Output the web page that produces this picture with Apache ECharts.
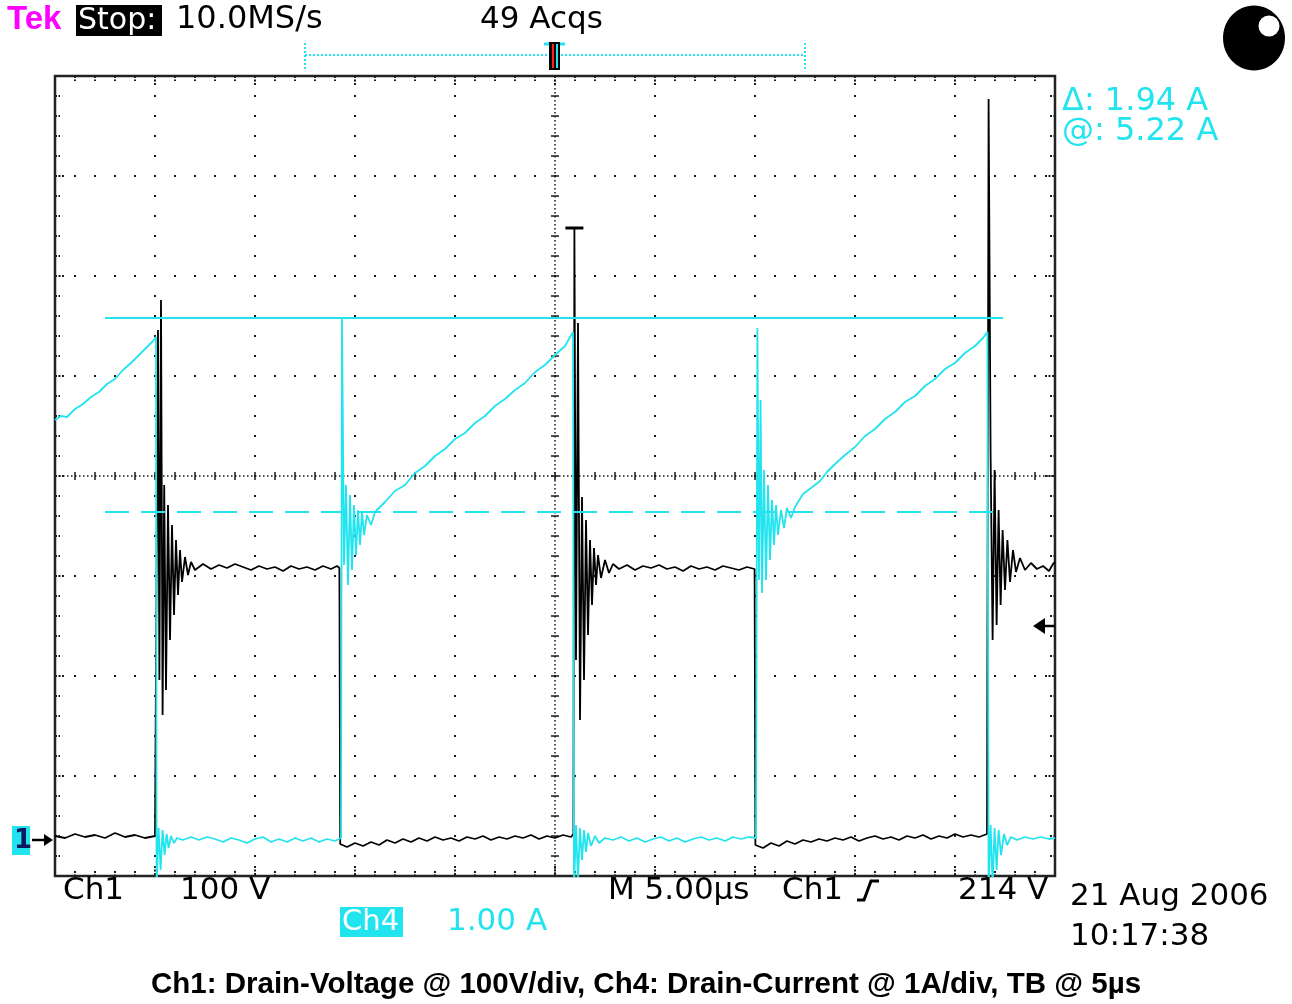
<!DOCTYPE html>
<html><head><meta charset="utf-8">
<script src="https://cdn.jsdelivr.net/npm/echarts@6/dist/echarts.min.js"></script>
<style>html,body{margin:0;padding:0;background:#fff}#c{width:1292px;height:1004px}</style>
</head><body><div id="c"></div>
<script>
// ---- Ch1: drain voltage (time in µs, volts) ----
const ch1T = [0,0.5,1.0,1.5,2.0,2.5,3.0,3.5,4.0,4.5,5.0,5.1,
5.15,5.22,5.30,5.38,5.46,5.55,5.65,5.75,5.85,5.95,6.05,6.15,6.25,6.35,6.5,6.65,6.8,
7.0,7.4,7.8,8.2,8.6,9.0,9.4,9.8,10.2,10.6,11.0,11.4,11.8,12.2,12.6,13.0,13.4,13.8,14.1,14.22,
14.26,14.6,15.0,15.4,15.8,16.2,16.6,17.0,17.4,17.8,18.2,18.6,19.0,19.4,19.8,20.2,20.6,21.0,21.4,21.8,22.2,22.6,23.0,23.4,23.8,24.2,24.6,25.0,25.4,25.8,25.92,
25.97,26.05,26.15,26.25,26.35,26.45,26.55,26.65,26.75,26.85,26.95,27.05,27.15,27.3,27.5,27.7,27.9,
28.2,28.6,29.0,29.4,29.8,30.2,30.6,31.0,31.4,31.8,32.2,32.6,33.0,33.4,33.8,34.2,34.6,34.98,
35.02,35.4,35.8,36.2,36.6,37.0,37.4,37.8,38.2,38.6,39.0,39.4,39.8,40.2,40.6,41.0,41.4,41.8,42.2,42.6,43.0,43.4,43.8,44.2,44.6,45.0,45.4,45.8,46.2,46.6,
46.68,46.78,46.88,46.98,47.08,47.18,47.28,47.38,47.5,47.62,47.75,47.9,48.05,48.25,48.5,48.8,49.1,49.4,49.7,49.9,50.0];
const ch1V = [4,2,6,3,5,2,7,3,5,2,4,6,
510,160,540,125,355,150,335,200,315,225,300,245,290,258,283,265,278,
270,276,271,275,272,276,273,270,274,271,273,269,274,271,273,270,274,271,274,272,
-4,-7,-3,-6,-2,-5,0,-3,1,-2,2,-1,3,0,2,-1,3,1,4,0,3,1,4,2,5,1,4,2,5,3,6,
612,180,517,120,343,160,320,205,300,235,292,255,285,262,280,267,276,
271,275,270,274,272,275,271,273,269,274,271,273,270,274,272,270,273,271,
-5,-8,-3,-6,-1,-4,0,-2,1,-1,2,0,3,-1,2,4,1,3,0,4,2,5,1,4,2,6,3,5,3,6,
741,385,200,370,215,330,235,310,250,300,258,290,268,282,270,277,271,274,269,276,278];

// ---- Ch4: drain current (time in µs, amperes) ----
const ch4T = [0,0.3,0.6,1.0,1.4,1.8,2.2,2.6,3.0,3.4,3.8,4.2,4.6,4.9,5.05,
5.08,5.18,5.28,5.38,5.48,5.58,5.68,5.8,5.95,6.1,
6.4,6.8,7.2,7.6,8.0,8.4,8.8,9.2,9.6,10.0,10.4,10.8,11.2,11.6,12.0,12.4,12.8,13.2,13.6,14.0,14.3,
14.35,14.45,14.55,14.65,14.75,14.85,14.95,15.05,15.15,15.25,15.35,15.45,15.6,15.8,16.0,
16.5,17.0,17.5,18.0,18.5,19.0,19.5,20.0,20.5,21.0,21.5,22.0,22.5,23.0,23.5,24.0,24.5,25.0,25.5,25.9,
25.95,26.05,26.15,26.25,26.35,26.45,26.55,26.65,26.8,27.0,27.2,27.5,
27.9,28.3,28.7,29.1,29.5,29.9,30.3,30.7,31.1,31.5,31.9,32.3,32.7,33.1,33.5,33.9,34.3,34.7,35.05,
35.12,35.2,35.28,35.35,35.45,35.55,35.65,35.75,35.85,35.95,36.05,36.15,36.3,36.45,36.6,36.8,37.0,
37.4,37.8,38.25,38.6,39.0,39.5,40.0,40.5,41.0,41.5,42.0,42.5,43.0,43.5,44.0,44.5,45.0,45.5,46.0,46.4,46.62,
46.68,46.78,46.88,46.98,47.08,47.18,47.3,47.45,47.6,47.8,48.1,48.5,48.9,49.3,49.7,50.0];
const ch4A = [4.20,4.24,4.23,4.31,4.36,4.43,4.48,4.56,4.61,4.70,4.77,4.85,4.93,4.99,5.03,
-0.5,0.12,-0.30,0.10,-0.15,0.06,-0.08,0.04,-0.03,0.02,
0.00,0.03,0.00,0.03,0.01,-0.02,0.02,0.00,-0.03,0.01,0.03,-0.02,0.01,-0.02,0.02,-0.01,0.02,-0.02,0.01,-0.01,0.02,
5.22,2.75,3.55,2.55,3.45,2.70,3.35,2.85,3.30,2.95,3.28,3.05,3.25,3.15,3.28,
3.38,3.49,3.55,3.67,3.74,3.84,3.91,4.01,4.07,4.17,4.24,4.34,4.41,4.50,4.57,4.68,4.75,4.85,4.94,5.08,
-0.5,0.15,-0.40,0.12,-0.20,0.10,-0.12,0.07,-0.06,0.04,-0.03,0.02,
0.00,0.03,-0.01,0.02,-0.02,0.01,0.03,-0.01,0.02,-0.02,0.01,0.03,0.00,0.02,-0.01,0.03,0.01,0.03,0.02,
5.12,2.60,4.40,2.47,3.70,2.60,3.55,2.80,3.40,2.95,3.35,3.05,3.30,3.12,3.32,3.22,3.33,
3.46,3.52,3.59,3.68,3.76,3.85,3.93,4.04,4.11,4.21,4.28,4.38,4.44,4.54,4.61,4.71,4.77,4.87,4.94,5.02,5.08,
-0.5,0.15,-0.45,0.12,-0.30,0.10,-0.15,0.06,-0.05,0.03,0.00,0.03,0.01,0.03,0.01,0.02];

// ---- cursors / settings ----
const cursorT = [2.5, 47.4];
const cursorLevels = [5.22, 3.28];   // Δ = 1.94 A, @ = 5.22 A
const triggerLevel = 214;            // V
const peakClipT = 25.97, peakClipV = 612;
const timeAxis = [0, 50];            // 5 µs/div × 10
const voltAxis = [-36, 764];         // 100 V/div × 8
const ampAxis = [-0.36, 7.64];       // 1 A/div × 8

const CYAN = '#22e4ee';
const FONT = '"DejaVu Sans", "Liberation Sans", sans-serif';
const zip = (a, b) => a.map((v, i) => [v, b[i]]);

const chart = echarts.init(document.getElementById('c'), null, {renderer: 'canvas'});

function renderGraticule(params, api) {
  const p0 = api.coord([0, 8]), p1 = api.coord([10, 0]);
  const L = p0[0], T = p0[1], R = p1[0], B = p1[1];
  const dx = (R - L) / 10, dy = (B - T) / 8, sub = 5;
  const C = '#1a1a1a';
  const kids = [];
  const ln = (x1, y1, x2, y2, st) => kids.push({type: 'line', shape: {x1, y1, x2, y2}, style: Object.assign({stroke: C, lineWidth: 2}, st || {})});
  for (let i = 1; i < 10; i++) { if (i === 5) continue; const x = L + i * dx; ln(x, T - 1, x, B + 1, {lineDash: [2, dy / sub - 2]}); }
  for (let j = 1; j < 8; j++) { if (j === 4) continue; const y = T + j * dy; ln(L - 1, y, R + 1, y, {lineDash: [2, dx / sub - 2]}); }
  const cx = L + 5 * dx, cy = T + 4 * dy;
  ln(cx, T, cx, B, {lineWidth: 1.5, lineDash: [1.5, 2.5]});
  ln(L, cy, R, cy, {lineWidth: 1.5, lineDash: [1.5, 2.5]});
  for (let k = 1; k < 10 * sub; k++) {
    const x = L + k * dx / sub, major = k % sub === 0, len = major ? 10 : 5;
    ln(x, cy - 4, x, cy + 4, {lineWidth: 1.5});
    ln(x, T, x, T + len, {lineDash: [2, 1.5]});
    ln(x, B - len, x, B, {lineDash: [2, 1.5]});
  }
  for (let k = 1; k < 8 * sub; k++) {
    const y = T + k * dy / sub, major = k % sub === 0, len = major ? 10 : 5;
    ln(cx - 4, y, cx + 4, y, {lineWidth: 1.5});
    ln(L, y, L + len, y, {lineDash: [2, 1.5]});
    ln(R - len, y, R, y, {lineDash: [2, 1.5]});
  }
  kids.push({type: 'rect', shape: {x: L, y: T, width: R - L, height: B - T}, style: {fill: null, stroke: '#222', lineWidth: 2.5}});
  return {type: 'group', children: kids};
}

const hiddenAxis = {show: false};
chart.setOption({
  animation: false,
  backgroundColor: '#ffffff',
  grid: {left: 55, top: 76, width: 1000, height: 800, show: false},
  xAxis: [
    Object.assign({type: 'value', min: timeAxis[0], max: timeAxis[1]}, hiddenAxis),
    Object.assign({type: 'value', min: 0, max: 10}, hiddenAxis)
  ],
  yAxis: [
    Object.assign({type: 'value', min: voltAxis[0], max: voltAxis[1]}, hiddenAxis),
    Object.assign({type: 'value', min: ampAxis[0], max: ampAxis[1]}, hiddenAxis),
    Object.assign({type: 'value', min: 0, max: 8}, hiddenAxis)
  ],
  series: [
    {type: 'custom', name: 'graticule', xAxisIndex: 1, yAxisIndex: 2, data: [[0, 0]], renderItem: renderGraticule, z: 1, clip: false, silent: true},
    {type: 'line', name: 'Ch1', xAxisIndex: 0, yAxisIndex: 0, data: zip(ch1T, ch1V), showSymbol: false, z: 3,
      lineStyle: {color: '#000', width: 1.8}, itemStyle: {color: '#000'}},
    {type: 'line', name: 'Ch4', xAxisIndex: 0, yAxisIndex: 1, data: zip(ch4T, ch4A), showSymbol: false, z: 4,
      lineStyle: {color: CYAN, width: 1.8}, itemStyle: {color: CYAN}},
    {type: 'line', name: 'cursor1', xAxisIndex: 0, yAxisIndex: 1, data: cursorT.map(t => [t, cursorLevels[0]]), showSymbol: false, z: 5,
      lineStyle: {color: CYAN, width: 1.8}},
    {type: 'line', name: 'cursor2', xAxisIndex: 0, yAxisIndex: 1, data: cursorT.map(t => [t, cursorLevels[1]]), showSymbol: false, z: 5,
      lineStyle: {color: CYAN, width: 1.8, type: [24, 12]}}
  ]
});

const gnd = chart.convertToPixel({xAxisIndex: 0, yAxisIndex: 0}, [0, 0]);
const trig = chart.convertToPixel({xAxisIndex: 0, yAxisIndex: 0}, [timeAxis[1], triggerLevel]);
const pk = chart.convertToPixel({xAxisIndex: 0, yAxisIndex: 0}, [peakClipT, peakClipV]);
const tl = chart.convertToPixel({xAxisIndex: 1, yAxisIndex: 2}, [0, 8]);
const br = chart.convertToPixel({xAxisIndex: 1, yAxisIndex: 2}, [10, 0]);
const midX = (tl[0] + br[0]) / 2;

const txt = (text, x, y, fill, size, extra) => ({type: 'text', z: 10, style: Object.assign({text, x, y, fill, font: size + 'px ' + FONT, textVerticalAlign: 'middle'}, extra || {})});

chart.setOption({
  graphic: [
    // header
    txt('Tek', 7, 20, '#ff00ff', 32, {font: 'bold 33px "Liberation Sans", sans-serif'}),
    {type: 'rect', z: 9, shape: {x: 76, y: 5, width: 86, height: 31}, style: {fill: '#000'}},
    txt('Stop:', 78, 21, '#fff', 30),
    txt('10.0MS/s', 176, 20, '#000', 32),
    txt('49 Acqs', 480, 20, '#000', 31),
    // record / trigger-position bar
    {type: 'line', z: 9, shape: {x1: midX - 250, y1: 55, x2: midX + 250, y2: 55}, style: {stroke: CYAN, lineWidth: 2, lineDash: [2, 2]}},
    {type: 'line', z: 9, shape: {x1: midX - 250, y1: 43, x2: midX - 250, y2: 69}, style: {stroke: CYAN, lineWidth: 2, lineDash: [2, 2]}},
    {type: 'line', z: 9, shape: {x1: midX + 250, y1: 43, x2: midX + 250, y2: 69}, style: {stroke: CYAN, lineWidth: 2, lineDash: [2, 2]}},
    {type: 'line', z: 9, shape: {x1: midX - 11, y1: 44, x2: midX + 10, y2: 44}, style: {stroke: CYAN, lineWidth: 3}},
    {type: 'rect', z: 10, shape: {x: midX - 6, y: 42, width: 11, height: 28}, style: {fill: '#000'}},
    {type: 'rect', z: 11, shape: {x: midX - 3, y: 44, width: 2, height: 24}, style: {fill: '#ff2020'}},
    {type: 'rect', z: 11, shape: {x: midX + 1, y: 44, width: 2, height: 24}, style: {fill: CYAN}},
    // top-right indicator
    {type: 'ellipse', z: 9, shape: {cx: 1254, cy: 38, rx: 31, ry: 32.5}, style: {fill: '#000'}},
    {type: 'circle', z: 10, shape: {cx: 1269, cy: 26, r: 10.5}, style: {fill: '#fff'}},
    // cursor readouts
    txt('\u0394: 1.94 A', 1062, 102, CYAN, 32),
    txt('@: 5.22 A', 1062, 132, CYAN, 32),
    // clip marker at peak
    {type: 'line', z: 10, shape: {x1: pk[0] - 9, y1: pk[1], x2: pk[0] + 9, y2: pk[1]}, style: {stroke: '#000', lineWidth: 3}},
    // ground marker "1→"
    {type: 'rect', z: 9, shape: {x: 12, y: gnd[1] - 14, width: 18, height: 29}, style: {fill: CYAN}},
    txt('1', 14, gnd[1] + 1, '#0a1a60', 26, {font: 'bold 26px ' + FONT}),
    {type: 'line', z: 9, shape: {x1: 32, y1: gnd[1], x2: 50, y2: gnd[1]}, style: {stroke: '#000', lineWidth: 2.5}},
    {type: 'polygon', z: 9, shape: {points: [[53, gnd[1]], [44, gnd[1] - 6], [44, gnd[1] + 6]]}, style: {fill: '#000'}},
    // trigger level arrow
    {type: 'polygon', z: 9, shape: {points: [[trig[0] - 22, trig[1]], [trig[0] - 10, trig[1] - 8], [trig[0] - 10, trig[1] + 8]]}, style: {fill: '#000'}},
    {type: 'line', z: 9, shape: {x1: trig[0] - 12, y1: trig[1], x2: trig[0], y2: trig[1]}, style: {stroke: '#000', lineWidth: 2.5}},
    // bottom readouts
    txt('Ch1', 63, 891, '#000', 31),
    txt('100 V', 180, 891, '#000', 31),
    {type: 'rect', z: 9, shape: {x: 340, y: 907, width: 63, height: 30}, style: {fill: CYAN}},
    txt('Ch4', 342, 922, '#fff', 29),
    txt('1.00 A', 447, 922, CYAN, 31),
    txt('M 5.00\u00b5s', 608, 891, '#000', 31),
    txt('Ch1', 782, 891, '#000', 31),
    {type: 'polyline', z: 9, shape: {points: [[857, 900], [864, 900], [871, 881], [879, 881]]}, style: {stroke: '#000', lineWidth: 3, fill: null}},
    txt('214 V', 958, 891, '#000', 31),
    txt('21 Aug 2006', 1070, 897, '#000', 31),
    txt('10:17:38', 1070, 937, '#000', 31),
    // caption
    txt('Ch1: Drain-Voltage @ 100V/div, Ch4: Drain-Current @ 1A/div, TB @ 5\u00b5s', 646, 985, '#000', 29,
      {font: 'bold 29.5px "Liberation Sans", Arial, sans-serif', textAlign: 'center'})
  ]
});
</script></body></html>
